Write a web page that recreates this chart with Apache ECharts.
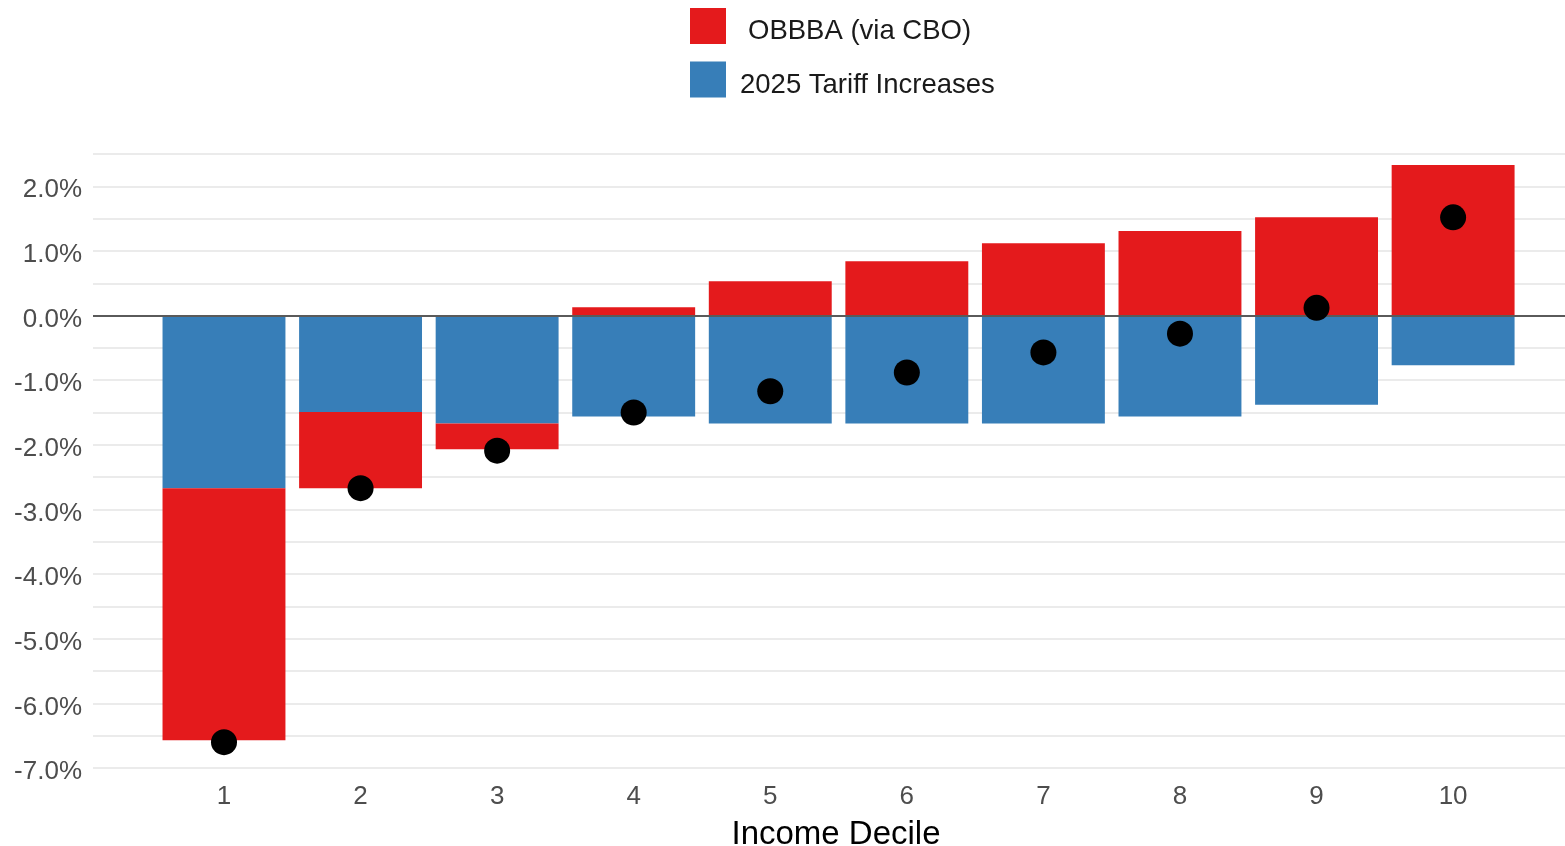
<!DOCTYPE html>
<html>
<head>
<meta charset="utf-8">
<style>
  html, body { margin: 0; padding: 0; background: #ffffff; }
  #chart { width: 1565px; height: 846px; }
</style>
<script src="https://cdn.jsdelivr.net/npm/echarts@6/dist/echarts.min.js"></script>
</head>
<body>
<div id="chart"></div>
<script>
const deciles = ['1', '2', '3', '4', '5', '6', '7', '8', '9', '10'];
const obbba = [-3.9, -1.18, -0.4, 0.13, 0.53, 0.84, 1.12, 1.31, 1.52, 2.33];
const tariff = [-2.67, -1.49, -1.67, -1.56, -1.67, -1.67, -1.67, -1.56, -1.38, -0.77];
const net = [-6.6, -2.67, -2.09, -1.5, -1.17, -0.88, -0.57, -0.28, 0.12, 1.52];
const seriesNames = ['OBBBA (via CBO)', '2025 Tariff Increases'];
const xTitle = 'Income Decile';

const FONT = '"Liberation Sans", Arial, sans-serif';
const Y_MIN = -7, Y_MAX = 2.5;
const legendFont = { fontFamily: FONT, fontSize: 27.5, color: '#1a1a1a' };

const chart = echarts.init(document.getElementById('chart'), null, { renderer: 'canvas' });
chart.setOption({
  animation: false,
  backgroundColor: '#ffffff',
  textStyle: { fontFamily: FONT },
  title: {
    text: xTitle,
    left: 831,
    top: 813,
    textAlign: 'center',
    textStyle: { fontFamily: FONT, fontSize: 33, fontWeight: 'normal', color: '#000000' }
  },
  legend: {
    orient: 'vertical',
    left: 690,
    top: 8,
    padding: 0,
    itemWidth: 36,
    itemHeight: 36,
    itemGap: 16,
    icon: 'rect',
    data: seriesNames,
    formatter: (name) => (name === seriesNames[0] ? '{a|' : '{b|') + name + '}',
    textStyle: Object.assign({}, legendFont, {
      rich: {
        a: Object.assign({}, legendFont, { padding: [11, 0, 0, 17] }),
        b: Object.assign({}, legendFont, { padding: [11, 0, 0, 9] })
      }
    })
  },
  grid: [
    { left: 93, right: 0, top: 154, bottom: 78 },
    { left: 155.7, right: 43.6, top: 154, bottom: 78 }
  ],
  xAxis: [
    {
      gridIndex: 0,
      type: 'value',
      min: 0,
      max: 1,
      show: false
    },
    {
      gridIndex: 1,
      type: 'category',
      data: deciles,
      boundaryGap: true,
      splitLine: { show: false },
      axisLine: { show: false },
      axisTick: { show: false },
      axisLabel: {
        margin: 16,
        fontFamily: FONT,
        fontSize: 26,
        color: '#4d4d4d'
      }
    }
  ],
  yAxis: [
    {
      gridIndex: 0,
      type: 'value',
      min: Y_MIN,
      max: Y_MAX,
      interval: 0.5,
      axisLine: { show: false },
      axisTick: { show: false },
      splitLine: { show: true, lineStyle: { color: '#ebebeb', width: 2 } },
      axisLabel: {
        margin: 11,
        verticalAlign: 'top',
        lineHeight: 8,
        fontFamily: FONT,
        fontSize: 26,
        color: '#4d4d4d',
        formatter: (v) => (Math.abs(v - Math.round(v)) < 1e-9 && v < Y_MAX) ? v.toFixed(1) + '%' : ''
      }
    },
    {
      gridIndex: 1,
      type: 'value',
      min: Y_MIN,
      max: Y_MAX,
      interval: 0.5,
      show: false,
      splitLine: { show: false }
    }
  ],
  series: [
    {
      name: seriesNames[1],
      type: 'bar',
      xAxisIndex: 1,
      yAxisIndex: 1,
      stack: 'total',
      barWidth: '90%',
      itemStyle: { color: '#377EB8' },
      data: tariff
    },
    {
      name: seriesNames[0],
      type: 'bar',
      xAxisIndex: 1,
      yAxisIndex: 1,
      stack: 'total',
      barWidth: '90%',
      itemStyle: { color: '#E41A1C' },
      data: obbba
    },
    {
      name: 'zero',
      type: 'line',
      xAxisIndex: 0,
      yAxisIndex: 0,
      z: 3,
      data: [],
      markLine: {
        silent: true,
        symbol: 'none',
        label: { show: false },
        lineStyle: { color: '#5a5a5a', width: 2, type: 'solid' },
        data: [{ yAxis: 0 }]
      }
    },
    {
      name: 'Net',
      type: 'scatter',
      xAxisIndex: 1,
      yAxisIndex: 1,
      symbol: 'circle',
      symbolSize: 26,
      z: 5,
      itemStyle: { color: '#000000', opacity: 1 },
      data: net
    }
  ]
});
</script>
</body>
</html>
